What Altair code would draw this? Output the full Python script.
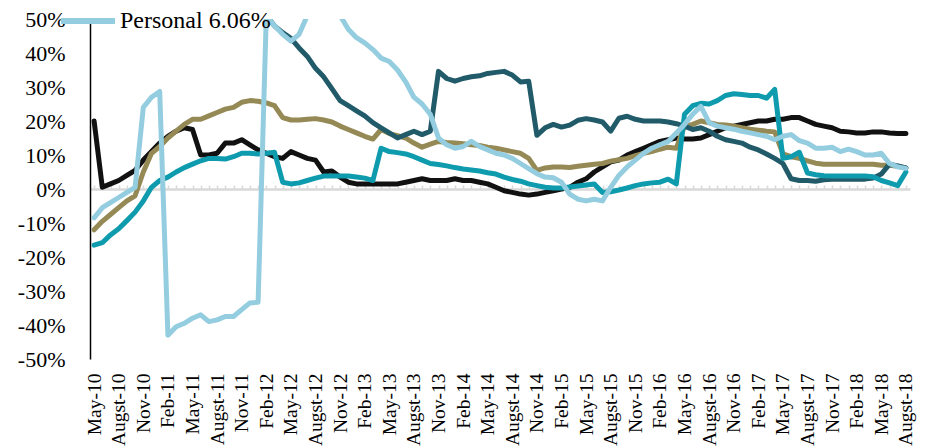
import altair as alt
import pandas as pd

# ---- categories -------------------------------------------------------------
month_names = ["Jan", "Feb", "Mar", "Apr", "May", "Jun", "Jul", "Augst",
               "Sep", "Oct", "Nov", "Dec"]
months = []
for k in range(100):
    m = (4 + k) % 12
    yy = 10 + (4 + k) // 12
    months.append(f"{month_names[m]}-{yy:02d}")
tick_labels = months[::3]
y_ticks = [-50, -40, -30, -20, -10, 0, 10, 20, 30, 40, 50]

# ---- series values (%) -----------------------------------------------------
black = [20, 0.5, 1.5, 2.5, 4, 5.5, 8.5, 11, 13.5, 15.5,
         17, 18, 17.5, 10, 10, 10.5, 13.5, 13.5, 14.5, 13,
         11.5, 10.5, 9.5, 9, 11, 10, 9, 8.5, 5, 5.3,
         3.5, 2, 1.5, 1.5, 1.5, 1.5, 1.5, 1.5, 2, 2.5,
         3, 2.5, 2.5, 2.5, 3, 2.5, 2.5, 2, 1.5, 0.5,
         -0.5, -1, -1.5, -1.8, -1.5, -1, -0.5, 0, 0.5, 2,
         3, 5, 6.5, 8, 8.5, 10, 11, 12, 13, 14,
         14.5, 15, 14.7, 14.7, 15, 16, 17, 18, 18.5, 19,
         19.5, 20, 20, 20.5, 20.5, 21, 21, 20, 19, 18.5,
         18, 17, 16.8, 16.5, 16.5, 16.8, 16.8, 16.5, 16.3, 16.3]

tan = [-12, -9.5, -7.5, -5.5, -3.5, -2, 5, 10.5, 12.5, 15,
       17, 19, 20.5, 20.5, 21.5, 22.5, 23.5, 24, 25.5, 26,
       25.8, 25.3, 24.5, 21, 20.3, 20.3, 20.5, 20.7, 20.3, 19.7,
       18.5, 17.5, 16.5, 15.5, 14.7, 17.5, 16.3, 15.7, 15, 13.5,
       12.3, 13.2, 14, 13.7, 13.5, 13.3, 13, 12.8, 12.3, 12,
       11.5, 11, 10.5, 9, 5.5, 6.2, 6.5, 6.5, 6.3, 6.7,
       7, 7.3, 7.5, 8.2, 8.6, 9, 9.8, 10.5, 11, 11.7,
       12.3, 12, 18.5, 19, 20, 19.5, 19, 18.8, 18.5, 18,
       17.6, 17.3, 17, 16.8, 10.3, 9.5, 9, 8.3, 7.6, 7.3,
       7.3, 7.3, 7.3, 7.3, 7.3, 7.3, 7, 7, 6.7, 6.2]

personal = [-8.5, -5.5, -4, -2.5, -1, 0.5, 24, 27, 28.7, -43,
            -40.5, -39.5, -38, -37, -39, -38.5, -37.5, -37.5, -35.5, -33.5,
            -33.3, 51, 48, 45.5, 43.5, 45.5, 51, 57, 58, 56,
            51, 47, 44.5, 43, 41, 38.5, 37.5, 35, 31.5, 27,
            25, 22, 15, 13, 12, 12.5, 14, 12.5, 11.5, 10.5,
            10, 9, 7.5, 6, 4.5, 3.5, 3.3, 2, -1.5, -3,
            -3.5, -3, -3.5, 0.5, 4, 6.5, 8.5, 10.5, 12, 13,
            14, 16.5, 19, 22, 24.3, 19.5, 18.5, 18, 17.6, 17,
            16.5, 16, 15.5, 14.5, 15.5, 16, 14.2, 13.5, 12, 12,
            12.3, 11, 11.7, 11, 10, 10, 10.5, 7.5, 6.5, 6.06]

dark_teal = [None] * 21 + [
    51, 48, 46, 44.3,
    41.5, 39, 35.5, 33, 29.5, 26,
    24.5, 23, 21.5, 19.5, 18, 16.5, 15, 16, 17, 16,
    17, 34.6, 32.5, 31.7, 32.5, 33, 33.3, 34, 34.3, 34.6,
    33.5, 31.5, 31.7, 15.8, 18, 19, 18.2, 18.8, 20.2, 20.7,
    20.3, 19.7, 17, 20.8, 21.4, 20.5, 20, 20, 20, 19.7,
    19.2, 18.5, 17.5, 18, 17, 15.5, 14.5, 14, 13.5, 12.3,
    11.5, 10.3, 9, 7.5, 3, 2.5, 2.5, 2.3, 2.7, 2.9,
    2.9, 2.9, 2.9, 2.9, 3.2, 4.4, 7.3, 6.8, 6.2]

teal = [-16.5, -15.8, -13.5, -11.7, -9.3, -6.8, -3.5, 0.5, 2.5, 3.5,
        5, 6.3, 7.3, 8.3, 9, 9, 8.8, 9.5, 10.5, 10.5,
        10.3, 10.5, 10.8, 2, 1.5, 1.8, 2.5, 3.2, 3.8, 3.8,
        3.8, 3.8, 3.5, 3.2, 2.5, 12, 11, 10.7, 10.3, 9.5,
        8.5, 7.5, 7.2, 6.8, 6.3, 5.9, 5.6, 5.3, 4.8, 4.4,
        3.5, 2.8, 2.3, 1.5, 1, 0.5, 0.3, 0.3, 0.6, 0.9,
        1.2, 1.5, -1, -0.8, -0.3, 0.3, 1, 1.5, 1.8, 2,
        2.9, 1.5, 22, 24.5, 25.2, 25, 26, 27.5, 28, 27.8,
        27.5, 27.5, 26.7, 29.3, 9, 9.5, 10.8, 4.7, 4.2, 3.9,
        3.8, 3.8, 3.8, 3.8, 3.8, 3.6, 2.5, 1.8, 1, 5]

series_names = ["Total", "Corporate", "SME", "Housing", "Personal 6.06%"]
series_values = [black, tan, dark_teal, teal, personal]
series_colors = ["#111111", "#958A55", "#215B6A", "#0E9BAD", "#93CDDF"]

rows = []
for name, vals in zip(series_names, series_values):
    for mth, v in zip(months, vals):
        if v is not None:
            rows.append({"month": mth, "series": name, "value": v})
df = pd.DataFrame(rows)

FONT = "Liberation Serif"
x_scale = alt.Scale(type="point", domain=months, padding=0.5)
y_scale = alt.Scale(domain=[-50, 50], nice=False, zero=False)
y_axis = alt.Axis(values=y_ticks, labelExpr="datum.value + '%'", domain=True,
                  domainColor="black", domainWidth=1.5, ticks=False,
                  grid=False, labelPadding=25, labelFont=FONT,
                  labelFontSize=22, labelColor="black", title=None)

zero_axis = alt.Chart(df).mark_point(opacity=0).encode(
    x=alt.X("month:N", sort=months, scale=x_scale,
            axis=alt.Axis(orient="top", offset=-170, labels=False, grid=False,
                          domainColor="#D9D9D9", domainWidth=2.5,
                          tickColor="#D9D9D9", tickWidth=1.5, tickSize=4,
                          title=None)),
    y=alt.Y("value:Q", scale=y_scale, axis=y_axis),
)

lines = alt.Chart(df).mark_line(strokeWidth=5, clip=True, strokeCap="round",
                                strokeJoin="round").encode(
    x=alt.X("month:N", sort=months, scale=x_scale,
            axis=alt.Axis(orient="bottom", values=tick_labels, labelAngle=-90,
                          domain=False, ticks=False, grid=False, labelPadding=14,
                          labelFont=FONT, labelFontSize=19.5, labelColor="black",
                          title=None)),
    y=alt.Y("value:Q", scale=y_scale, axis=y_axis),
    color=alt.Color("series:N", sort=series_names,
                    scale=alt.Scale(domain=series_names, range=series_colors),
                    legend=alt.Legend(values=["Personal 6.06%"], orient="none",
                                      legendX=-32, legendY=-28, title=None,
                                      symbolType="stroke", symbolSize=2916,
                                      symbolStrokeWidth=6, labelFont=FONT,
                                      labelFontSize=24, labelColor="black",
                                      labelOffset=2, labelLimit=400, padding=0)),
)

chart = alt.layer(zero_axis, lines).resolve_axis(x="independent").properties(
    width=820, height=340,
    autosize=alt.AutoSizeParams(type="none"),
    padding={"left": 82, "top": 11, "right": 10, "bottom": 87},
).configure(font=FONT).configure_view(stroke=None)

chart.save("out.html", embed_options={"renderer": "svg", "actions": False})
